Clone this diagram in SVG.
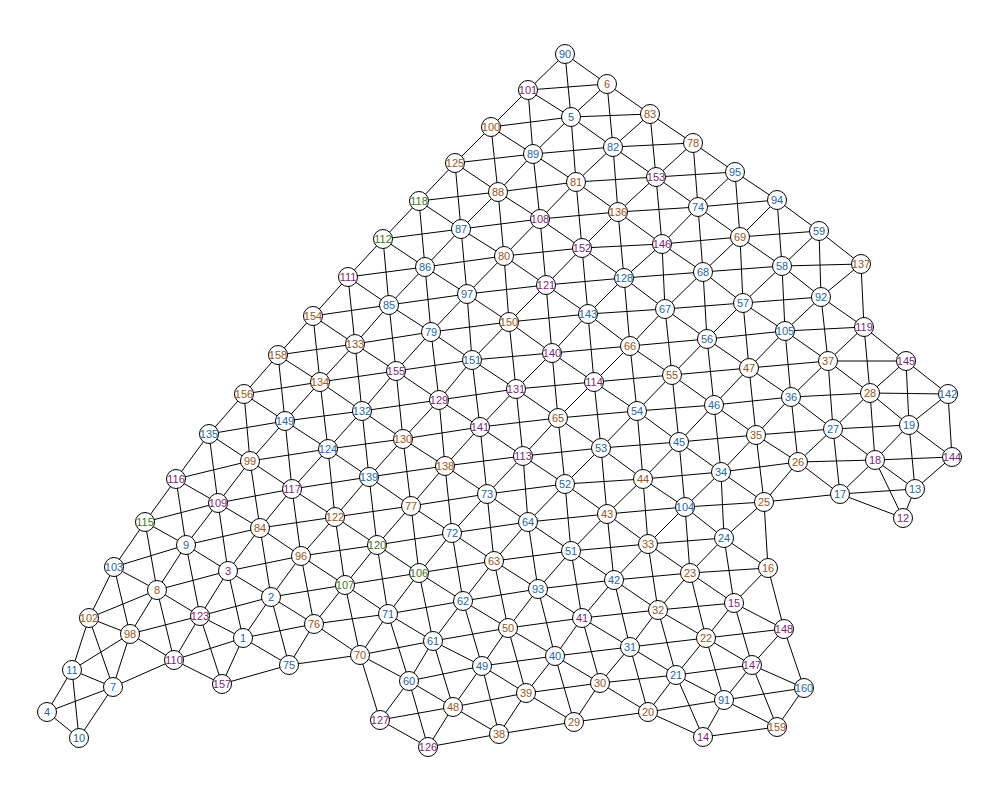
<svg xmlns="http://www.w3.org/2000/svg" width="1000" height="800" viewBox="0 0 1000 800">
<style>
.e path{stroke:#000;stroke-width:1;fill:none}
.n circle{fill:#fff;stroke:#000;stroke-width:1}
.n text{font-family:"Liberation Sans",Arial,sans-serif;font-size:11px;text-anchor:middle;dominant-baseline:central}
.b text{fill:#2466a8}.o text{fill:#9a5420}.p text{fill:#7a1f7a}.g text{fill:#3f7420}
</style>
<rect width="1000" height="800" fill="#fff"/>
<g id="edges" class="e">
<path d="M565 54L607 84"/><path d="M565 54L528 90"/><path d="M565 54L571 117"/><path d="M607 84L650 114"/><path d="M607 84L571 117"/><path d="M607 84L613 147"/><path d="M650 114L693 143"/><path d="M650 114L613 147"/><path d="M650 114L656 177"/><path d="M693 143L735 172"/><path d="M693 143L656 177"/><path d="M693 143L698 207"/><path d="M735 172L777 200"/><path d="M735 172L698 207"/><path d="M735 172L740 237"/><path d="M777 200L819 231"/><path d="M777 200L740 237"/><path d="M777 200L782 266"/><path d="M819 231L861 264"/><path d="M819 231L782 266"/><path d="M819 231L821 297"/><path d="M861 264L821 297"/><path d="M861 264L864 327"/>
<path d="M528 90L571 117"/><path d="M528 90L491 127"/><path d="M528 90L533 154"/><path d="M528 90L607 84"/><path d="M571 117L613 147"/><path d="M571 117L533 154"/><path d="M571 117L576 182"/><path d="M571 117L650 114"/><path d="M613 147L656 177"/><path d="M613 147L576 182"/><path d="M613 147L618 212"/><path d="M613 147L693 143"/><path d="M656 177L698 207"/><path d="M656 177L618 212"/><path d="M656 177L662 244"/><path d="M656 177L735 172"/><path d="M698 207L740 237"/><path d="M698 207L662 244"/><path d="M698 207L703 272"/><path d="M698 207L777 200"/><path d="M740 237L782 266"/><path d="M740 237L703 272"/><path d="M740 237L743 303"/><path d="M740 237L819 231"/><path d="M782 266L821 297"/><path d="M782 266L743 303"/><path d="M782 266L785 331"/><path d="M782 266L861 264"/><path d="M821 297L864 327"/><path d="M821 297L785 331"/><path d="M821 297L828 361"/><path d="M864 327L906 361"/><path d="M864 327L828 361"/><path d="M864 327L870 393"/><path d="M906 361L948 394"/><path d="M906 361L870 393"/><path d="M906 361L909 425"/><path d="M948 394L909 425"/><path d="M948 394L952 457"/>
<path d="M491 127L533 154"/><path d="M491 127L455 163"/><path d="M491 127L498 192"/><path d="M491 127L571 117"/><path d="M533 154L576 182"/><path d="M533 154L498 192"/><path d="M533 154L540 219"/><path d="M533 154L613 147"/><path d="M576 182L618 212"/><path d="M576 182L540 219"/><path d="M576 182L582 248"/><path d="M576 182L656 177"/><path d="M618 212L662 244"/><path d="M618 212L582 248"/><path d="M618 212L624 278"/><path d="M618 212L698 207"/><path d="M662 244L703 272"/><path d="M662 244L624 278"/><path d="M662 244L665 309"/><path d="M662 244L740 237"/><path d="M703 272L743 303"/><path d="M703 272L665 309"/><path d="M703 272L707 339"/><path d="M703 272L782 266"/><path d="M743 303L785 331"/><path d="M743 303L707 339"/><path d="M743 303L749 368"/><path d="M743 303L821 297"/><path d="M785 331L828 361"/><path d="M785 331L749 368"/><path d="M785 331L791 397"/><path d="M785 331L864 327"/><path d="M828 361L870 393"/><path d="M828 361L791 397"/><path d="M828 361L833 429"/><path d="M828 361L906 361"/><path d="M870 393L909 425"/><path d="M870 393L833 429"/><path d="M870 393L875 460"/><path d="M870 393L948 394"/><path d="M909 425L952 457"/><path d="M909 425L875 460"/><path d="M909 425L915 489"/><path d="M952 457L915 489"/>
<path d="M455 163L498 192"/><path d="M455 163L419 201"/><path d="M455 163L461 229"/><path d="M455 163L533 154"/><path d="M498 192L540 219"/><path d="M498 192L461 229"/><path d="M498 192L504 256"/><path d="M498 192L576 182"/><path d="M540 219L582 248"/><path d="M540 219L504 256"/><path d="M540 219L546 285"/><path d="M540 219L618 212"/><path d="M582 248L624 278"/><path d="M582 248L546 285"/><path d="M582 248L588 314"/><path d="M582 248L662 244"/><path d="M624 278L665 309"/><path d="M624 278L588 314"/><path d="M624 278L630 346"/><path d="M624 278L703 272"/><path d="M665 309L707 339"/><path d="M665 309L630 346"/><path d="M665 309L672 375"/><path d="M665 309L743 303"/><path d="M707 339L749 368"/><path d="M707 339L672 375"/><path d="M707 339L714 405"/><path d="M707 339L785 331"/><path d="M749 368L791 397"/><path d="M749 368L714 405"/><path d="M749 368L756 435"/><path d="M749 368L828 361"/><path d="M791 397L833 429"/><path d="M791 397L756 435"/><path d="M791 397L798 462"/><path d="M791 397L870 393"/><path d="M833 429L875 460"/><path d="M833 429L798 462"/><path d="M833 429L840 494"/><path d="M833 429L909 425"/><path d="M875 460L915 489"/><path d="M875 460L840 494"/><path d="M875 460L903 518"/><path d="M875 460L952 457"/><path d="M915 489L903 518"/>
<path d="M419 201L461 229"/><path d="M419 201L383 239"/><path d="M419 201L425 267"/><path d="M419 201L498 192"/><path d="M461 229L504 256"/><path d="M461 229L425 267"/><path d="M461 229L467 294"/><path d="M461 229L540 219"/><path d="M504 256L546 285"/><path d="M504 256L467 294"/><path d="M504 256L509 322"/><path d="M504 256L582 248"/><path d="M546 285L588 314"/><path d="M546 285L509 322"/><path d="M546 285L552 353"/><path d="M546 285L624 278"/><path d="M588 314L630 346"/><path d="M588 314L552 353"/><path d="M588 314L594 382"/><path d="M588 314L665 309"/><path d="M630 346L672 375"/><path d="M630 346L594 382"/><path d="M630 346L637 411"/><path d="M630 346L707 339"/><path d="M672 375L714 405"/><path d="M672 375L637 411"/><path d="M672 375L679 442"/><path d="M672 375L749 368"/><path d="M714 405L756 435"/><path d="M714 405L679 442"/><path d="M714 405L721 472"/><path d="M714 405L791 397"/><path d="M756 435L798 462"/><path d="M756 435L721 472"/><path d="M756 435L764 502"/><path d="M756 435L833 429"/><path d="M798 462L840 494"/><path d="M798 462L764 502"/><path d="M798 462L875 460"/><path d="M840 494L903 518"/><path d="M840 494L915 489"/>
<path d="M383 239L425 267"/><path d="M383 239L348 277"/><path d="M383 239L389 305"/><path d="M383 239L461 229"/><path d="M425 267L467 294"/><path d="M425 267L389 305"/><path d="M425 267L431 332"/><path d="M425 267L504 256"/><path d="M467 294L509 322"/><path d="M467 294L431 332"/><path d="M467 294L472 360"/><path d="M467 294L546 285"/><path d="M509 322L552 353"/><path d="M509 322L472 360"/><path d="M509 322L516 389"/><path d="M509 322L588 314"/><path d="M552 353L594 382"/><path d="M552 353L516 389"/><path d="M552 353L558 418"/><path d="M552 353L630 346"/><path d="M594 382L637 411"/><path d="M594 382L558 418"/><path d="M594 382L601 448"/><path d="M594 382L672 375"/><path d="M637 411L679 442"/><path d="M637 411L601 448"/><path d="M637 411L643 479"/><path d="M637 411L714 405"/><path d="M679 442L721 472"/><path d="M679 442L643 479"/><path d="M679 442L685 507"/><path d="M679 442L756 435"/><path d="M721 472L764 502"/><path d="M721 472L685 507"/><path d="M721 472L724 538"/><path d="M721 472L798 462"/><path d="M764 502L724 538"/><path d="M764 502L768 568"/><path d="M764 502L840 494"/>
<path d="M348 277L389 305"/><path d="M348 277L313 316"/><path d="M348 277L355 344"/><path d="M348 277L425 267"/><path d="M389 305L431 332"/><path d="M389 305L355 344"/><path d="M389 305L396 371"/><path d="M389 305L467 294"/><path d="M431 332L472 360"/><path d="M431 332L396 371"/><path d="M431 332L439 400"/><path d="M431 332L509 322"/><path d="M472 360L516 389"/><path d="M472 360L439 400"/><path d="M472 360L480 427"/><path d="M472 360L552 353"/><path d="M516 389L558 418"/><path d="M516 389L480 427"/><path d="M516 389L523 456"/><path d="M516 389L594 382"/><path d="M558 418L601 448"/><path d="M558 418L523 456"/><path d="M558 418L565 484"/><path d="M558 418L637 411"/><path d="M601 448L643 479"/><path d="M601 448L565 484"/><path d="M601 448L607 514"/><path d="M601 448L679 442"/><path d="M643 479L685 507"/><path d="M643 479L607 514"/><path d="M643 479L648 544"/><path d="M643 479L721 472"/><path d="M685 507L724 538"/><path d="M685 507L648 544"/><path d="M685 507L690 573"/><path d="M685 507L764 502"/><path d="M724 538L768 568"/><path d="M724 538L690 573"/><path d="M724 538L734 603"/><path d="M768 568L734 603"/><path d="M768 568L784 629"/>
<path d="M313 316L355 344"/><path d="M313 316L278 355"/><path d="M313 316L320 382"/><path d="M313 316L389 305"/><path d="M355 344L396 371"/><path d="M355 344L320 382"/><path d="M355 344L362 411"/><path d="M355 344L431 332"/><path d="M396 371L439 400"/><path d="M396 371L362 411"/><path d="M396 371L403 439"/><path d="M396 371L472 360"/><path d="M439 400L480 427"/><path d="M439 400L403 439"/><path d="M439 400L445 466"/><path d="M439 400L516 389"/><path d="M480 427L523 456"/><path d="M480 427L445 466"/><path d="M480 427L487 494"/><path d="M480 427L558 418"/><path d="M523 456L565 484"/><path d="M523 456L487 494"/><path d="M523 456L528 522"/><path d="M523 456L601 448"/><path d="M565 484L607 514"/><path d="M565 484L528 522"/><path d="M565 484L571 551"/><path d="M565 484L643 479"/><path d="M607 514L648 544"/><path d="M607 514L571 551"/><path d="M607 514L614 580"/><path d="M607 514L685 507"/><path d="M648 544L690 573"/><path d="M648 544L614 580"/><path d="M648 544L658 610"/><path d="M648 544L724 538"/><path d="M690 573L734 603"/><path d="M690 573L658 610"/><path d="M690 573L706 638"/><path d="M690 573L768 568"/><path d="M734 603L784 629"/><path d="M734 603L706 638"/><path d="M734 603L752 665"/><path d="M784 629L752 665"/><path d="M784 629L804 688"/>
<path d="M278 355L320 382"/><path d="M278 355L244 394"/><path d="M278 355L285 421"/><path d="M278 355L355 344"/><path d="M320 382L362 411"/><path d="M320 382L285 421"/><path d="M320 382L328 449"/><path d="M320 382L396 371"/><path d="M362 411L403 439"/><path d="M362 411L328 449"/><path d="M362 411L369 477"/><path d="M362 411L439 400"/><path d="M403 439L445 466"/><path d="M403 439L369 477"/><path d="M403 439L411 506"/><path d="M403 439L480 427"/><path d="M445 466L487 494"/><path d="M445 466L411 506"/><path d="M445 466L452 533"/><path d="M445 466L523 456"/><path d="M487 494L528 522"/><path d="M487 494L452 533"/><path d="M487 494L494 561"/><path d="M487 494L565 484"/><path d="M528 522L571 551"/><path d="M528 522L494 561"/><path d="M528 522L538 589"/><path d="M528 522L607 514"/><path d="M571 551L614 580"/><path d="M571 551L538 589"/><path d="M571 551L582 618"/><path d="M571 551L648 544"/><path d="M614 580L658 610"/><path d="M614 580L582 618"/><path d="M614 580L630 647"/><path d="M614 580L690 573"/><path d="M658 610L706 638"/><path d="M658 610L630 647"/><path d="M658 610L676 675"/><path d="M658 610L734 603"/><path d="M706 638L752 665"/><path d="M706 638L676 675"/><path d="M706 638L724 700"/><path d="M706 638L784 629"/><path d="M752 665L804 688"/><path d="M752 665L724 700"/><path d="M752 665L777 727"/><path d="M804 688L777 727"/>
<path d="M244 394L285 421"/><path d="M244 394L209 434"/><path d="M244 394L250 461"/><path d="M244 394L320 382"/><path d="M285 421L328 449"/><path d="M285 421L250 461"/><path d="M285 421L292 489"/><path d="M285 421L362 411"/><path d="M328 449L369 477"/><path d="M328 449L292 489"/><path d="M328 449L335 517"/><path d="M328 449L403 439"/><path d="M369 477L411 506"/><path d="M369 477L335 517"/><path d="M369 477L377 545"/><path d="M369 477L445 466"/><path d="M411 506L452 533"/><path d="M411 506L377 545"/><path d="M411 506L419 573"/><path d="M411 506L487 494"/><path d="M452 533L494 561"/><path d="M452 533L419 573"/><path d="M452 533L463 601"/><path d="M452 533L528 522"/><path d="M494 561L538 589"/><path d="M494 561L463 601"/><path d="M494 561L508 628"/><path d="M494 561L571 551"/><path d="M538 589L582 618"/><path d="M538 589L508 628"/><path d="M538 589L555 656"/><path d="M538 589L614 580"/><path d="M582 618L630 647"/><path d="M582 618L555 656"/><path d="M582 618L600 683"/><path d="M582 618L658 610"/><path d="M630 647L676 675"/><path d="M630 647L600 683"/><path d="M630 647L648 712"/><path d="M630 647L706 638"/><path d="M676 675L724 700"/><path d="M676 675L648 712"/><path d="M676 675L703 737"/><path d="M676 675L752 665"/><path d="M724 700L777 727"/><path d="M724 700L703 737"/><path d="M724 700L804 688"/>
<path d="M209 434L250 461"/><path d="M209 434L176 479"/><path d="M209 434L218 503"/><path d="M209 434L285 421"/><path d="M250 461L292 489"/><path d="M250 461L218 503"/><path d="M250 461L260 528"/><path d="M250 461L328 449"/><path d="M292 489L335 517"/><path d="M292 489L260 528"/><path d="M292 489L301 556"/><path d="M292 489L369 477"/><path d="M335 517L377 545"/><path d="M335 517L301 556"/><path d="M335 517L345 585"/><path d="M335 517L411 506"/><path d="M377 545L419 573"/><path d="M377 545L345 585"/><path d="M377 545L388 614"/><path d="M377 545L452 533"/><path d="M419 573L463 601"/><path d="M419 573L388 614"/><path d="M419 573L433 641"/><path d="M419 573L494 561"/><path d="M463 601L508 628"/><path d="M463 601L433 641"/><path d="M463 601L482 666"/><path d="M463 601L538 589"/><path d="M508 628L555 656"/><path d="M508 628L482 666"/><path d="M508 628L526 693"/><path d="M508 628L582 618"/><path d="M555 656L600 683"/><path d="M555 656L526 693"/><path d="M555 656L574 722"/><path d="M555 656L630 647"/><path d="M600 683L648 712"/><path d="M600 683L574 722"/><path d="M600 683L676 675"/><path d="M648 712L703 737"/><path d="M648 712L724 700"/><path d="M703 737L777 727"/>
<path d="M176 479L218 503"/><path d="M176 479L145 522"/><path d="M176 479L186 545"/><path d="M176 479L250 461"/><path d="M218 503L260 528"/><path d="M218 503L186 545"/><path d="M218 503L228 571"/><path d="M218 503L292 489"/><path d="M260 528L301 556"/><path d="M260 528L228 571"/><path d="M260 528L271 597"/><path d="M260 528L335 517"/><path d="M301 556L345 585"/><path d="M301 556L271 597"/><path d="M301 556L314 624"/><path d="M301 556L377 545"/><path d="M345 585L388 614"/><path d="M345 585L314 624"/><path d="M345 585L360 655"/><path d="M345 585L419 573"/><path d="M388 614L433 641"/><path d="M388 614L360 655"/><path d="M388 614L409 681"/><path d="M388 614L463 601"/><path d="M433 641L482 666"/><path d="M433 641L409 681"/><path d="M433 641L453 707"/><path d="M433 641L508 628"/><path d="M482 666L526 693"/><path d="M482 666L453 707"/><path d="M482 666L499 734"/><path d="M482 666L555 656"/><path d="M526 693L574 722"/><path d="M526 693L499 734"/><path d="M526 693L600 683"/><path d="M574 722L648 712"/>
<path d="M145 522L186 545"/><path d="M145 522L114 567"/><path d="M145 522L157 590"/><path d="M145 522L218 503"/><path d="M186 545L228 571"/><path d="M186 545L157 590"/><path d="M186 545L200 616"/><path d="M186 545L260 528"/><path d="M228 571L271 597"/><path d="M228 571L200 616"/><path d="M228 571L243 638"/><path d="M228 571L301 556"/><path d="M271 597L314 624"/><path d="M271 597L243 638"/><path d="M271 597L289 665"/><path d="M271 597L345 585"/><path d="M314 624L360 655"/><path d="M314 624L289 665"/><path d="M314 624L388 614"/><path d="M360 655L409 681"/><path d="M360 655L380 720"/><path d="M360 655L433 641"/><path d="M409 681L453 707"/><path d="M409 681L380 720"/><path d="M409 681L428 747"/><path d="M409 681L482 666"/><path d="M453 707L499 734"/><path d="M453 707L428 747"/><path d="M453 707L526 693"/><path d="M499 734L574 722"/>
<path d="M114 567L157 590"/><path d="M114 567L89 618"/><path d="M114 567L130 634"/><path d="M114 567L186 545"/><path d="M157 590L200 616"/><path d="M157 590L130 634"/><path d="M157 590L174 660"/><path d="M157 590L228 571"/><path d="M200 616L243 638"/><path d="M200 616L174 660"/><path d="M200 616L222 684"/><path d="M200 616L271 597"/><path d="M243 638L289 665"/><path d="M243 638L222 684"/><path d="M243 638L314 624"/><path d="M289 665L360 655"/><path d="M380 720L428 747"/><path d="M380 720L453 707"/><path d="M428 747L499 734"/>
<path d="M89 618L130 634"/><path d="M89 618L72 670"/><path d="M89 618L113 687"/><path d="M89 618L157 590"/><path d="M130 634L174 660"/><path d="M130 634L113 687"/><path d="M130 634L200 616"/><path d="M174 660L222 684"/><path d="M174 660L243 638"/><path d="M222 684L289 665"/>
<path d="M72 670L113 687"/><path d="M72 670L47 712"/><path d="M72 670L79 738"/><path d="M72 670L130 634"/><path d="M113 687L79 738"/><path d="M113 687L174 660"/><path d="M47 712L79 738"/><path d="M47 712L113 687"/>
</g>
<g id="nodes" class="n">
<g id="n1" class="b"><circle cx="243" cy="638" r="9.5"/><text x="243" y="638">1</text></g>
<g id="n2" class="b"><circle cx="271" cy="597" r="9.5"/><text x="271" y="597">2</text></g>
<g id="n3" class="p"><circle cx="228" cy="571" r="9.5"/><text x="228" y="571">3</text></g>
<g id="n4" class="b"><circle cx="47" cy="712" r="9.5"/><text x="47" y="712">4</text></g>
<g id="n5" class="b"><circle cx="571" cy="117" r="9.5"/><text x="571" y="117">5</text></g>
<g id="n6" class="o"><circle cx="607" cy="84" r="9.5"/><text x="607" y="84">6</text></g>
<g id="n7" class="b"><circle cx="113" cy="687" r="9.5"/><text x="113" y="687">7</text></g>
<g id="n8" class="o"><circle cx="157" cy="590" r="9.5"/><text x="157" y="590">8</text></g>
<g id="n9" class="b"><circle cx="186" cy="545" r="9.5"/><text x="186" y="545">9</text></g>
<g id="n10" class="b"><circle cx="79" cy="738" r="9.5"/><text x="79" y="738">10</text></g>
<g id="n11" class="b"><circle cx="72" cy="670" r="9.5"/><text x="72" y="670">11</text></g>
<g id="n12" class="p"><circle cx="903" cy="518" r="9.5"/><text x="903" y="518">12</text></g>
<g id="n13" class="b"><circle cx="915" cy="489" r="9.5"/><text x="915" y="489">13</text></g>
<g id="n14" class="p"><circle cx="703" cy="737" r="9.5"/><text x="703" y="737">14</text></g>
<g id="n15" class="p"><circle cx="734" cy="603" r="9.5"/><text x="734" y="603">15</text></g>
<g id="n16" class="o"><circle cx="768" cy="568" r="9.5"/><text x="768" y="568">16</text></g>
<g id="n17" class="b"><circle cx="840" cy="494" r="9.5"/><text x="840" y="494">17</text></g>
<g id="n18" class="p"><circle cx="875" cy="460" r="9.5"/><text x="875" y="460">18</text></g>
<g id="n19" class="b"><circle cx="909" cy="425" r="9.5"/><text x="909" y="425">19</text></g>
<g id="n20" class="o"><circle cx="648" cy="712" r="9.5"/><text x="648" y="712">20</text></g>
<g id="n21" class="b"><circle cx="676" cy="675" r="9.5"/><text x="676" y="675">21</text></g>
<g id="n22" class="o"><circle cx="706" cy="638" r="9.5"/><text x="706" y="638">22</text></g>
<g id="n23" class="o"><circle cx="690" cy="573" r="9.5"/><text x="690" y="573">23</text></g>
<g id="n24" class="b"><circle cx="724" cy="538" r="9.5"/><text x="724" y="538">24</text></g>
<g id="n25" class="o"><circle cx="764" cy="502" r="9.5"/><text x="764" y="502">25</text></g>
<g id="n26" class="o"><circle cx="798" cy="462" r="9.5"/><text x="798" y="462">26</text></g>
<g id="n27" class="b"><circle cx="833" cy="429" r="9.5"/><text x="833" y="429">27</text></g>
<g id="n28" class="o"><circle cx="870" cy="393" r="9.5"/><text x="870" y="393">28</text></g>
<g id="n29" class="o"><circle cx="574" cy="722" r="9.5"/><text x="574" y="722">29</text></g>
<g id="n30" class="o"><circle cx="600" cy="683" r="9.5"/><text x="600" y="683">30</text></g>
<g id="n31" class="b"><circle cx="630" cy="647" r="9.5"/><text x="630" y="647">31</text></g>
<g id="n32" class="o"><circle cx="658" cy="610" r="9.5"/><text x="658" y="610">32</text></g>
<g id="n33" class="o"><circle cx="648" cy="544" r="9.5"/><text x="648" y="544">33</text></g>
<g id="n34" class="b"><circle cx="721" cy="472" r="9.5"/><text x="721" y="472">34</text></g>
<g id="n35" class="o"><circle cx="756" cy="435" r="9.5"/><text x="756" y="435">35</text></g>
<g id="n36" class="b"><circle cx="791" cy="397" r="9.5"/><text x="791" y="397">36</text></g>
<g id="n37" class="o"><circle cx="828" cy="361" r="9.5"/><text x="828" y="361">37</text></g>
<g id="n38" class="o"><circle cx="499" cy="734" r="9.5"/><text x="499" y="734">38</text></g>
<g id="n39" class="o"><circle cx="526" cy="693" r="9.5"/><text x="526" y="693">39</text></g>
<g id="n40" class="b"><circle cx="555" cy="656" r="9.5"/><text x="555" y="656">40</text></g>
<g id="n41" class="p"><circle cx="582" cy="618" r="9.5"/><text x="582" y="618">41</text></g>
<g id="n42" class="b"><circle cx="614" cy="580" r="9.5"/><text x="614" y="580">42</text></g>
<g id="n43" class="o"><circle cx="607" cy="514" r="9.5"/><text x="607" y="514">43</text></g>
<g id="n44" class="o"><circle cx="643" cy="479" r="9.5"/><text x="643" y="479">44</text></g>
<g id="n45" class="b"><circle cx="679" cy="442" r="9.5"/><text x="679" y="442">45</text></g>
<g id="n46" class="b"><circle cx="714" cy="405" r="9.5"/><text x="714" y="405">46</text></g>
<g id="n47" class="o"><circle cx="749" cy="368" r="9.5"/><text x="749" y="368">47</text></g>
<g id="n48" class="o"><circle cx="453" cy="707" r="9.5"/><text x="453" y="707">48</text></g>
<g id="n49" class="b"><circle cx="482" cy="666" r="9.5"/><text x="482" y="666">49</text></g>
<g id="n50" class="o"><circle cx="508" cy="628" r="9.5"/><text x="508" y="628">50</text></g>
<g id="n51" class="b"><circle cx="571" cy="551" r="9.5"/><text x="571" y="551">51</text></g>
<g id="n52" class="b"><circle cx="565" cy="484" r="9.5"/><text x="565" y="484">52</text></g>
<g id="n53" class="b"><circle cx="601" cy="448" r="9.5"/><text x="601" y="448">53</text></g>
<g id="n54" class="b"><circle cx="637" cy="411" r="9.5"/><text x="637" y="411">54</text></g>
<g id="n55" class="o"><circle cx="672" cy="375" r="9.5"/><text x="672" y="375">55</text></g>
<g id="n56" class="b"><circle cx="707" cy="339" r="9.5"/><text x="707" y="339">56</text></g>
<g id="n57" class="b"><circle cx="743" cy="303" r="9.5"/><text x="743" y="303">57</text></g>
<g id="n58" class="b"><circle cx="782" cy="266" r="9.5"/><text x="782" y="266">58</text></g>
<g id="n59" class="b"><circle cx="819" cy="231" r="9.5"/><text x="819" y="231">59</text></g>
<g id="n60" class="b"><circle cx="409" cy="681" r="9.5"/><text x="409" y="681">60</text></g>
<g id="n61" class="b"><circle cx="433" cy="641" r="9.5"/><text x="433" y="641">61</text></g>
<g id="n62" class="b"><circle cx="463" cy="601" r="9.5"/><text x="463" y="601">62</text></g>
<g id="n63" class="o"><circle cx="494" cy="561" r="9.5"/><text x="494" y="561">63</text></g>
<g id="n64" class="b"><circle cx="528" cy="522" r="9.5"/><text x="528" y="522">64</text></g>
<g id="n65" class="o"><circle cx="558" cy="418" r="9.5"/><text x="558" y="418">65</text></g>
<g id="n66" class="o"><circle cx="630" cy="346" r="9.5"/><text x="630" y="346">66</text></g>
<g id="n67" class="b"><circle cx="665" cy="309" r="9.5"/><text x="665" y="309">67</text></g>
<g id="n68" class="b"><circle cx="703" cy="272" r="9.5"/><text x="703" y="272">68</text></g>
<g id="n69" class="o"><circle cx="740" cy="237" r="9.5"/><text x="740" y="237">69</text></g>
<g id="n70" class="o"><circle cx="360" cy="655" r="9.5"/><text x="360" y="655">70</text></g>
<g id="n71" class="b"><circle cx="388" cy="614" r="9.5"/><text x="388" y="614">71</text></g>
<g id="n72" class="b"><circle cx="452" cy="533" r="9.5"/><text x="452" y="533">72</text></g>
<g id="n73" class="b"><circle cx="487" cy="494" r="9.5"/><text x="487" y="494">73</text></g>
<g id="n74" class="b"><circle cx="698" cy="207" r="9.5"/><text x="698" y="207">74</text></g>
<g id="n75" class="b"><circle cx="289" cy="665" r="9.5"/><text x="289" y="665">75</text></g>
<g id="n76" class="o"><circle cx="314" cy="624" r="9.5"/><text x="314" y="624">76</text></g>
<g id="n77" class="o"><circle cx="411" cy="506" r="9.5"/><text x="411" y="506">77</text></g>
<g id="n78" class="o"><circle cx="693" cy="143" r="9.5"/><text x="693" y="143">78</text></g>
<g id="n79" class="b"><circle cx="431" cy="332" r="9.5"/><text x="431" y="332">79</text></g>
<g id="n80" class="o"><circle cx="504" cy="256" r="9.5"/><text x="504" y="256">80</text></g>
<g id="n81" class="o"><circle cx="576" cy="182" r="9.5"/><text x="576" y="182">81</text></g>
<g id="n82" class="b"><circle cx="613" cy="147" r="9.5"/><text x="613" y="147">82</text></g>
<g id="n83" class="o"><circle cx="650" cy="114" r="9.5"/><text x="650" y="114">83</text></g>
<g id="n84" class="o"><circle cx="260" cy="528" r="9.5"/><text x="260" y="528">84</text></g>
<g id="n85" class="b"><circle cx="389" cy="305" r="9.5"/><text x="389" y="305">85</text></g>
<g id="n86" class="b"><circle cx="425" cy="267" r="9.5"/><text x="425" y="267">86</text></g>
<g id="n87" class="b"><circle cx="461" cy="229" r="9.5"/><text x="461" y="229">87</text></g>
<g id="n88" class="o"><circle cx="498" cy="192" r="9.5"/><text x="498" y="192">88</text></g>
<g id="n89" class="b"><circle cx="533" cy="154" r="9.5"/><text x="533" y="154">89</text></g>
<g id="n90" class="b"><circle cx="565" cy="54" r="9.5"/><text x="565" y="54">90</text></g>
<g id="n91" class="b"><circle cx="724" cy="700" r="9.5"/><text x="724" y="700">91</text></g>
<g id="n92" class="b"><circle cx="821" cy="297" r="9.5"/><text x="821" y="297">92</text></g>
<g id="n93" class="b"><circle cx="538" cy="589" r="9.5"/><text x="538" y="589">93</text></g>
<g id="n94" class="b"><circle cx="777" cy="200" r="9.5"/><text x="777" y="200">94</text></g>
<g id="n95" class="b"><circle cx="735" cy="172" r="9.5"/><text x="735" y="172">95</text></g>
<g id="n96" class="o"><circle cx="301" cy="556" r="9.5"/><text x="301" y="556">96</text></g>
<g id="n97" class="b"><circle cx="467" cy="294" r="9.5"/><text x="467" y="294">97</text></g>
<g id="n98" class="o"><circle cx="130" cy="634" r="9.5"/><text x="130" y="634">98</text></g>
<g id="n99" class="o"><circle cx="250" cy="461" r="9.5"/><text x="250" y="461">99</text></g>
<g id="n100" class="o"><circle cx="491" cy="127" r="9.5"/><text x="491" y="127">100</text></g>
<g id="n101" class="p"><circle cx="528" cy="90" r="9.5"/><text x="528" y="90">101</text></g>
<g id="n102" class="o"><circle cx="89" cy="618" r="9.5"/><text x="89" y="618">102</text></g>
<g id="n103" class="b"><circle cx="114" cy="567" r="9.5"/><text x="114" y="567">103</text></g>
<g id="n104" class="b"><circle cx="685" cy="507" r="9.5"/><text x="685" y="507">104</text></g>
<g id="n105" class="b"><circle cx="785" cy="331" r="9.5"/><text x="785" y="331">105</text></g>
<g id="n106" class="g"><circle cx="419" cy="573" r="9.5"/><text x="419" y="573">106</text></g>
<g id="n107" class="g"><circle cx="345" cy="585" r="9.5"/><text x="345" y="585">107</text></g>
<g id="n108" class="p"><circle cx="540" cy="219" r="9.5"/><text x="540" y="219">108</text></g>
<g id="n109" class="p"><circle cx="218" cy="503" r="9.5"/><text x="218" y="503">109</text></g>
<g id="n110" class="p"><circle cx="174" cy="660" r="9.5"/><text x="174" y="660">110</text></g>
<g id="n111" class="p"><circle cx="348" cy="277" r="9.5"/><text x="348" y="277">111</text></g>
<g id="n112" class="g"><circle cx="383" cy="239" r="9.5"/><text x="383" y="239">112</text></g>
<g id="n113" class="p"><circle cx="523" cy="456" r="9.5"/><text x="523" y="456">113</text></g>
<g id="n114" class="p"><circle cx="594" cy="382" r="9.5"/><text x="594" y="382">114</text></g>
<g id="n115" class="g"><circle cx="145" cy="522" r="9.5"/><text x="145" y="522">115</text></g>
<g id="n116" class="p"><circle cx="176" cy="479" r="9.5"/><text x="176" y="479">116</text></g>
<g id="n117" class="p"><circle cx="292" cy="489" r="9.5"/><text x="292" y="489">117</text></g>
<g id="n118" class="g"><circle cx="419" cy="201" r="9.5"/><text x="419" y="201">118</text></g>
<g id="n119" class="p"><circle cx="864" cy="327" r="9.5"/><text x="864" y="327">119</text></g>
<g id="n120" class="g"><circle cx="377" cy="545" r="9.5"/><text x="377" y="545">120</text></g>
<g id="n121" class="p"><circle cx="546" cy="285" r="9.5"/><text x="546" y="285">121</text></g>
<g id="n122" class="o"><circle cx="335" cy="517" r="9.5"/><text x="335" y="517">122</text></g>
<g id="n123" class="p"><circle cx="200" cy="616" r="9.5"/><text x="200" y="616">123</text></g>
<g id="n124" class="b"><circle cx="328" cy="449" r="9.5"/><text x="328" y="449">124</text></g>
<g id="n125" class="o"><circle cx="455" cy="163" r="9.5"/><text x="455" y="163">125</text></g>
<g id="n126" class="p"><circle cx="428" cy="747" r="9.5"/><text x="428" y="747">126</text></g>
<g id="n127" class="p"><circle cx="380" cy="720" r="9.5"/><text x="380" y="720">127</text></g>
<g id="n128" class="b"><circle cx="624" cy="278" r="9.5"/><text x="624" y="278">128</text></g>
<g id="n129" class="p"><circle cx="439" cy="400" r="9.5"/><text x="439" y="400">129</text></g>
<g id="n130" class="o"><circle cx="403" cy="439" r="9.5"/><text x="403" y="439">130</text></g>
<g id="n131" class="p"><circle cx="516" cy="389" r="9.5"/><text x="516" y="389">131</text></g>
<g id="n132" class="b"><circle cx="362" cy="411" r="9.5"/><text x="362" y="411">132</text></g>
<g id="n133" class="o"><circle cx="355" cy="344" r="9.5"/><text x="355" y="344">133</text></g>
<g id="n134" class="o"><circle cx="320" cy="382" r="9.5"/><text x="320" y="382">134</text></g>
<g id="n135" class="b"><circle cx="209" cy="434" r="9.5"/><text x="209" y="434">135</text></g>
<g id="n136" class="o"><circle cx="618" cy="212" r="9.5"/><text x="618" y="212">136</text></g>
<g id="n137" class="o"><circle cx="861" cy="264" r="9.5"/><text x="861" y="264">137</text></g>
<g id="n138" class="o"><circle cx="445" cy="466" r="9.5"/><text x="445" y="466">138</text></g>
<g id="n139" class="b"><circle cx="369" cy="477" r="9.5"/><text x="369" y="477">139</text></g>
<g id="n140" class="p"><circle cx="552" cy="353" r="9.5"/><text x="552" y="353">140</text></g>
<g id="n141" class="p"><circle cx="480" cy="427" r="9.5"/><text x="480" y="427">141</text></g>
<g id="n142" class="b"><circle cx="948" cy="394" r="9.5"/><text x="948" y="394">142</text></g>
<g id="n143" class="b"><circle cx="588" cy="314" r="9.5"/><text x="588" y="314">143</text></g>
<g id="n144" class="p"><circle cx="952" cy="457" r="9.5"/><text x="952" y="457">144</text></g>
<g id="n145" class="p"><circle cx="906" cy="361" r="9.5"/><text x="906" y="361">145</text></g>
<g id="n146" class="p"><circle cx="662" cy="244" r="9.5"/><text x="662" y="244">146</text></g>
<g id="n147" class="p"><circle cx="752" cy="665" r="9.5"/><text x="752" y="665">147</text></g>
<g id="n148" class="p"><circle cx="784" cy="629" r="9.5"/><text x="784" y="629">148</text></g>
<g id="n149" class="b"><circle cx="285" cy="421" r="9.5"/><text x="285" y="421">149</text></g>
<g id="n150" class="o"><circle cx="509" cy="322" r="9.5"/><text x="509" y="322">150</text></g>
<g id="n151" class="b"><circle cx="472" cy="360" r="9.5"/><text x="472" y="360">151</text></g>
<g id="n152" class="p"><circle cx="582" cy="248" r="9.5"/><text x="582" y="248">152</text></g>
<g id="n153" class="p"><circle cx="656" cy="177" r="9.5"/><text x="656" y="177">153</text></g>
<g id="n154" class="o"><circle cx="313" cy="316" r="9.5"/><text x="313" y="316">154</text></g>
<g id="n155" class="p"><circle cx="396" cy="371" r="9.5"/><text x="396" y="371">155</text></g>
<g id="n156" class="o"><circle cx="244" cy="394" r="9.5"/><text x="244" y="394">156</text></g>
<g id="n157" class="p"><circle cx="222" cy="684" r="9.5"/><text x="222" y="684">157</text></g>
<g id="n158" class="o"><circle cx="278" cy="355" r="9.5"/><text x="278" y="355">158</text></g>
<g id="n159" class="o"><circle cx="777" cy="727" r="9.5"/><text x="777" y="727">159</text></g>
<g id="n160" class="b"><circle cx="804" cy="688" r="9.5"/><text x="804" y="688">160</text></g>
</g>
</svg>
